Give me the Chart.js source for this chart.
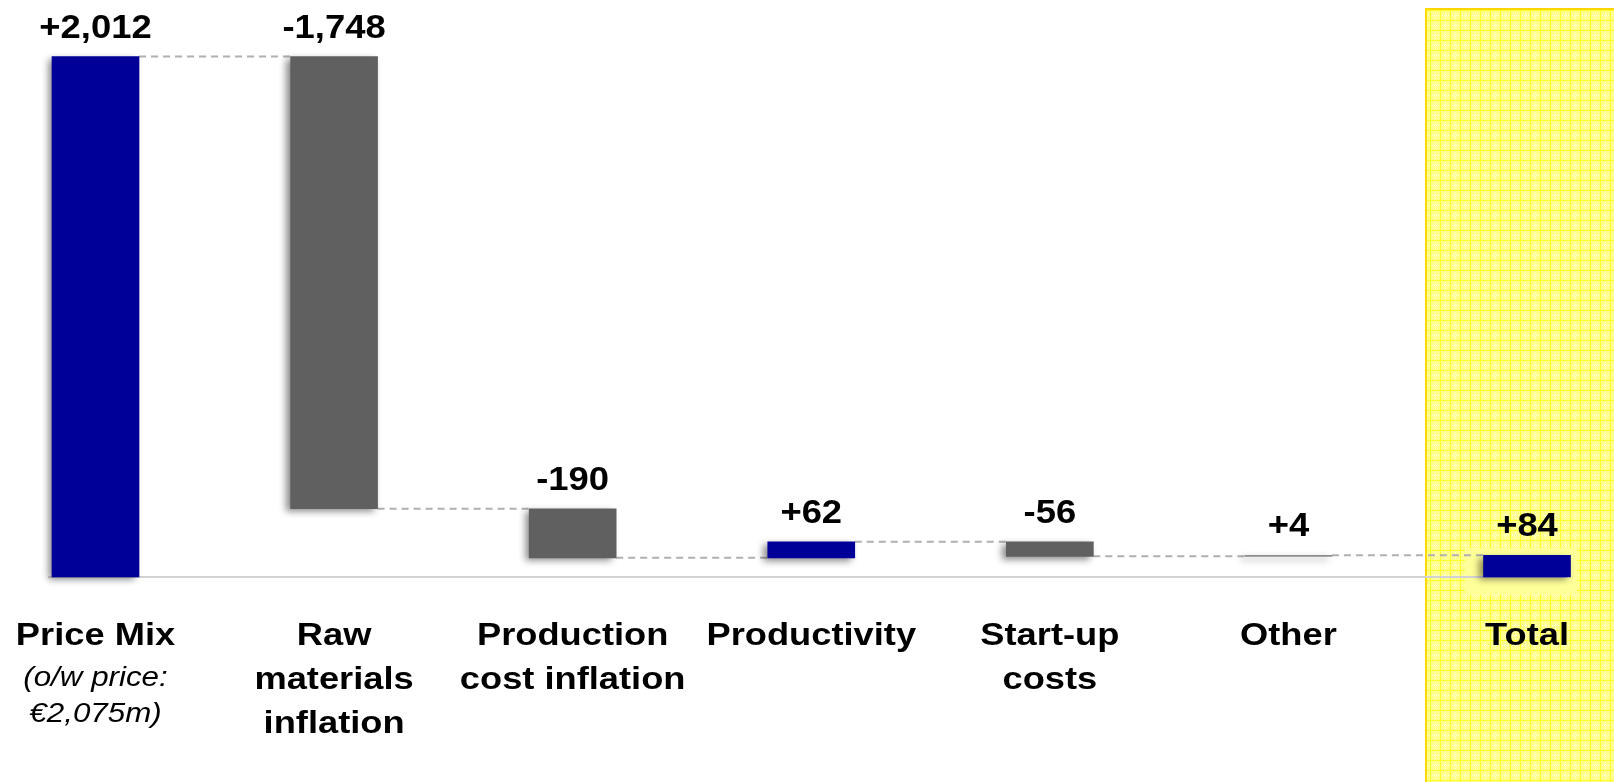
<!DOCTYPE html>
<html>
<head>
<meta charset="utf-8">
<script src="https://cdn.jsdelivr.net/npm/chart.js@4/dist/chart.umd.min.js"></script>
<style>
  html, body { margin: 0; padding: 0; background: #ffffff; }
  #wrap { width: 1614px; height: 782px; position: relative; }
</style>
</head>
<body>
<div id="wrap"><canvas id="c"></canvas></div>
<script>
// ---- data ----
const categories = ['Price Mix', 'Raw materials inflation', 'Production cost inflation', 'Productivity', 'Start-up costs', 'Other', 'Total'];
const categoryLines = [['Price Mix'], ['Raw', 'materials', 'inflation'], ['Production', 'cost inflation'], ['Productivity'], ['Start-up', 'costs'], ['Other'], ['Total']];
const priceMixNote = ['(o/w price:', '€2,075m)'];
const deltas = [2012, -1748, -190, 62, -56, 4];
const totalValue = 84;
const valueLabels = ['+2,012', '-1,748', '-190', '+62', '-56', '+4', '+84'];

// waterfall ranges built from the deltas
const ranges = [];
let run = 0;
deltas.forEach(d => { ranges.push([run, run + d]); run += d; });
ranges.push([0, totalValue]);

const BLUE = '#000099', GREY = '#606060', THIN = '#8c8c8c';
const barColors = ranges.map((r, i) => {
  if (i === ranges.length - 1) return BLUE;
  if (i === 5) return THIN;
  return r[1] >= r[0] ? BLUE : GREY;
});
const BAR_W = 87;

function stretchText(ctx, text, cx, y, font, sx) {
  ctx.save();
  ctx.translate(cx, y);
  ctx.scale(sx, 1);
  ctx.font = font;
  ctx.textAlign = 'center';
  ctx.textBaseline = 'alphabetic';
  ctx.fillStyle = '#000000';
  ctx.fillText(text, 0, 0);
  ctx.restore();
}

function makePattern(ctx) {
  const p = document.createElement('canvas');
  p.width = 10; p.height = 10;
  const g = p.getContext('2d');
  g.fillStyle = '#ffff8c';
  g.fillRect(0, 0, 10, 10);
  g.fillStyle = '#ffff2a';
  g.fillRect(0, 0, 10, 1);
  g.fillRect(0, 0, 1, 10);
  g.fillStyle = '#ffffe0';
  for (let k = 2; k < 10; k += 2) { g.fillRect(k, 5, 1, 1); g.fillRect(5, k, 1, 1); }
  return ctx.createPattern(p, 'repeat');
}

const decor = {
  id: 'decor',
  beforeDraw(chart) {
    const { ctx, chartArea, scales: { x, y } } = chart;
    const xt = x.getPixelForValue(6);
    const left = xt - 102;
    const top = chartArea.top;
    ctx.save();
    ctx.fillStyle = makePattern(ctx);
    ctx.fillRect(left, top, chart.width - left, chart.height - top);
    // lighter patch behind the total bar
    ctx.fillStyle = '#ffff99';
    const yb = y.getPixelForValue(0);
    ctx.fillRect(xt - 62, y.getPixelForValue(totalValue) - 7, 112, yb + 18 - (y.getPixelForValue(totalValue) - 7));
    // border
    ctx.strokeStyle = '#ffd700';
    ctx.lineWidth = 2;
    ctx.beginPath();
    ctx.moveTo(left + 1, chart.height);
    ctx.lineTo(left + 1, top + 1);
    ctx.lineTo(chart.width, top + 1);
    ctx.stroke();
    ctx.restore();
  },
  beforeDatasetsDraw(chart) {
    const { ctx, scales: { x, y } } = chart;
    ctx.save();
    // baseline
    const yb = y.getPixelForValue(0);
    ctx.strokeStyle = '#d2d2d2';
    ctx.lineWidth = 2;
    ctx.beginPath();
    ctx.moveTo(x.getPixelForValue(0) - BAR_W / 2 - 4, yb);
    ctx.lineTo(x.getPixelForValue(6) + BAR_W / 2 - 4, yb);
    ctx.stroke();
    // connectors
    ctx.strokeStyle = '#b0b0b0';
    ctx.lineWidth = 2;
    ctx.setLineDash([7, 5]);
    for (let i = 0; i < ranges.length - 1; i++) {
      const lvl = y.getPixelForValue(ranges[i][1]);
      ctx.beginPath();
      ctx.moveTo(x.getPixelForValue(i) + BAR_W / 2, lvl);
      ctx.lineTo(x.getPixelForValue(i + 1) - BAR_W / 2, lvl);
      ctx.stroke();
    }
    ctx.restore();
    // shadow for bars
    ctx.save();
    ctx.shadowColor = 'rgba(0,0,0,0.45)';
    ctx.shadowBlur = 7;
    ctx.shadowOffsetX = -4;
    ctx.shadowOffsetY = 3;
  },
  afterDatasetsDraw(chart) {
    const { ctx, scales: { x, y } } = chart;
    ctx.restore();
    // value labels
    ranges.forEach((r, i) => {
      const top = y.getPixelForValue(Math.max(r[0], r[1]));
      stretchText(ctx, valueLabels[i], x.getPixelForValue(i), top - 19, 'bold 34px "Liberation Sans", Arial, sans-serif', 1.07);
    });
    // category labels
    categoryLines.forEach((lines, i) => {
      const cx = x.getPixelForValue(i);
      let yy = 645;
      lines.forEach(line => {
        stretchText(ctx, line, cx, yy, 'bold 31px "Liberation Sans", Arial, sans-serif', 1.17);
        yy += 44;
      });
      if (i === 0) {
        let yi = 686;
        priceMixNote.forEach(line => {
          stretchText(ctx, line, cx, yi, 'italic 27px "Liberation Sans", Arial, sans-serif', 1.16);
          yi += 36;
        });
      }
    });
  }
};

new Chart(document.getElementById('c'), {
  type: 'bar',
  data: {
    labels: categories,
    datasets: [{
      data: ranges,
      backgroundColor: barColors,
      borderWidth: 0,
      barThickness: BAR_W,
      clip: false
    }]
  },
  options: {
    responsive: true,
    maintainAspectRatio: false,
    animation: false,
    layout: { padding: { left: 95.5, right: 87, top: 8, bottom: 205 } },
    plugins: { legend: { display: false }, tooltip: { enabled: false } },
    scales: {
      x: { type: 'category', offset: false, display: false, grid: { display: false } },
      y: { display: false, min: 0, max: 2200, grid: { display: false } }
    }
  },
  plugins: [decor]
});
</script>
</body>
</html>
